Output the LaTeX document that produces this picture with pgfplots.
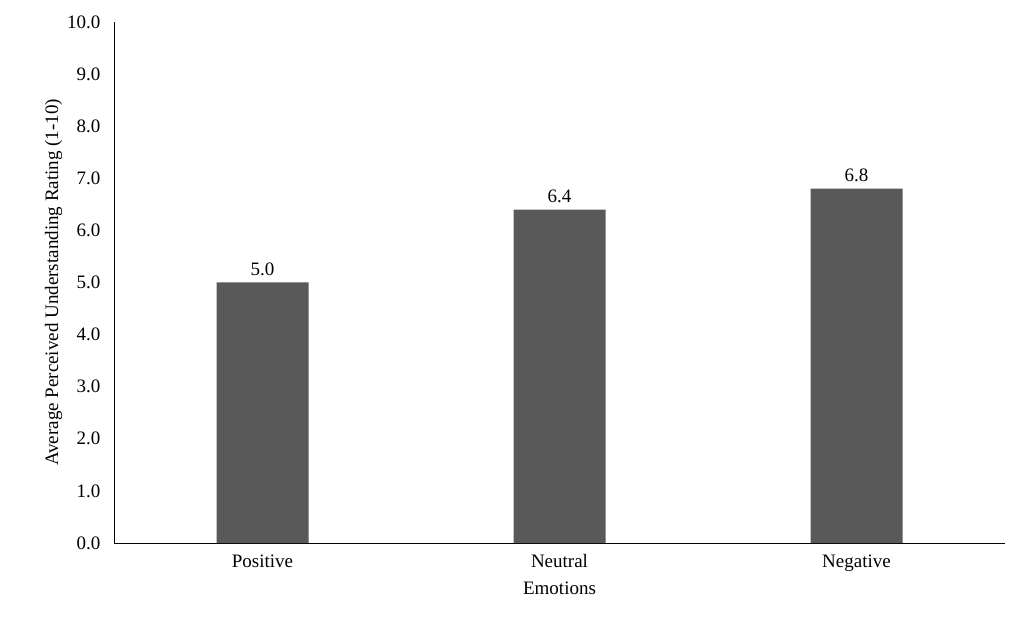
\documentclass[border=0pt]{standalone}
\usepackage{pgfplots}
\pgfplotsset{compat=1.18}
\usepackage{fontspec}
\setmainfont{Liberation Serif}
\usetikzlibrary{calc}
\definecolor{barc}{HTML}{595959}
\begin{document}
\begin{tikzpicture}
\begin{axis}[
  scale only axis, width=891pt, height=521pt,
  xmin=-0.5, xmax=2.5, ymin=0, ymax=10,
  axis lines=left, axis line style={-, black, line width=1pt},
  xtick={0,1,2}, xticklabels={Positive,Neutral,Negative},
  ytick={0,1,...,10},
  yticklabel={\pgfmathprintnumber[fixed,fixed zerofill,precision=1]{\tick}},
  /pgf/number format/assume math mode=true,
  major tick length=0pt,
  ticklabel style={font=\fontsize{19}{22}\selectfont},
  xticklabel style={yshift=-8pt},
  yticklabel style={xshift=-10pt},
  xlabel={Emotions}, ylabel={Average Perceived Understanding Rating (1-10)},
  label style={font=\fontsize{19}{22}\selectfont},
  xlabel style={yshift=-4pt},
  ylabel style={yshift=-2pt},
  ybar, bar width=92pt,
  nodes near coords={\pgfmathprintnumber[fixed,fixed zerofill,precision=1]{\pgfplotspointmeta}},
  nodes near coords style={font=\fontsize{19}{22}\selectfont, yshift=3pt},
]
\addplot[fill=barc, draw=none] coordinates {(0,5.0) (1,6.4) (2,6.8)};
\end{axis}
\pgfresetboundingbox
\path ($(current axis.south west)+(-114pt,-94pt)$) rectangle ($(current axis.north east)+(19pt,22pt)$);
\end{tikzpicture}
\end{document}
